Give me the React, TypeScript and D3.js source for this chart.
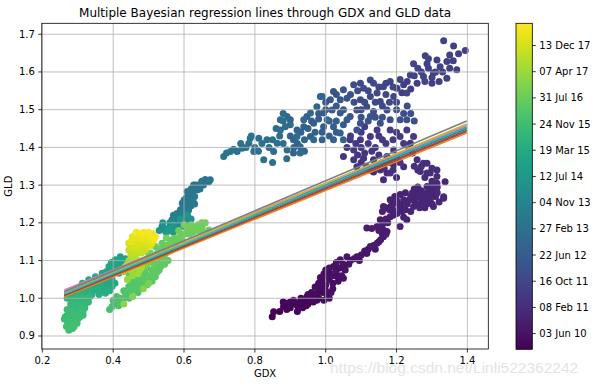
import * as d3 from 'd3';

// scatter points: [gdx, gld, time as fractional year]
const pts2010: [number, number, number][] = [
  [0.849, 0.951, 2010.05], [0.853, 0.964, 2010.08], [0.87, 0.965, 2010.08], [0.881, 0.978, 2010.1],
  [0.89, 0.97, 2010.1], [0.88, 0.99, 2010.11], [0.891, 0.987, 2010.12], [0.9, 0.975, 2010.1],
  [0.9, 0.99, 2010.12], [0.909, 0.995, 2010.15], [0.915, 0.985, 2010.14], [0.92, 0.98, 2010.13],
  [0.92, 0.965, 2010.14], [0.935, 0.975, 2010.15], [0.95, 0.985, 2010.16], [0.965, 0.99, 2010.18],
  [0.928, 0.991, 2010.18], [0.93, 1.0, 2010.19], [0.94, 0.99, 2010.17], [0.945, 0.98, 2010.16],
  [0.947, 1.004, 2010.2], [0.955, 0.995, 2010.2], [0.96, 1.0, 2010.22], [0.965, 1.01, 2010.23],
  [0.95, 1.01, 2010.22], [0.96, 1.015, 2010.23], [0.975, 0.995, 2010.24],
  [0.975, 1.013, 2010.25], [0.98, 1.0, 2010.24], [0.99, 1.015, 2010.26], [0.995, 0.995, 2010.28],
  [1.0, 1.02, 2010.29], [1.004, 1.009, 2010.3], [1.01, 1.0, 2010.31], [1.015, 1.015, 2010.31],
  [1.02, 1.025, 2010.32], [0.98, 1.04, 2010.32], [0.99, 1.035, 2010.33],
  [0.985, 1.025, 2010.27], [0.97, 1.03, 2010.3], [1.0, 1.035, 2010.3], [1.02, 1.04, 2010.32],
  [0.99, 1.049, 2010.33], [1.01, 1.05, 2010.34], [1.035, 1.045, 2010.35], [1.025, 1.06, 2010.36],
  [0.985, 1.055, 2010.34], [1.005, 1.06, 2010.35], [0.995, 1.065, 2010.36], [1.035, 1.06, 2010.37],
  [1.013, 1.066, 2010.36], [1.03, 1.075, 2010.38], [1.022, 1.084, 2010.4], [1.04, 1.08, 2010.4],
  [1.0, 1.075, 2010.38], [1.01, 1.08, 2010.39],
  [1.045, 1.06, 2010.41], [1.05, 1.053, 2010.42], [1.055, 1.075, 2010.43], [1.03, 1.095, 2010.44],
  [1.05, 1.09, 2010.44], [1.041, 1.102, 2010.45], [1.065, 1.09, 2010.46], [1.07, 1.1, 2010.47],
  [1.06, 1.11, 2010.48], [1.08, 1.105, 2010.49], [1.088, 1.11, 2010.5], [1.095, 1.1, 2010.5],
  [1.1, 1.115, 2010.52], [1.11, 1.125, 2010.53], [1.116, 1.119, 2010.53], [1.12, 1.13, 2010.55],
  [1.126, 1.137, 2010.56], [1.14, 1.13, 2010.57], [1.135, 1.14, 2010.58], [1.145, 1.146, 2010.6],
  [1.15, 1.15, 2010.61], [1.155, 1.155, 2010.62], [1.163, 1.163, 2010.63], [1.16, 1.17, 2010.64],
  [1.17, 1.17, 2010.65], [1.165, 1.18, 2010.66], [1.173, 1.177, 2010.66], [1.15, 1.18, 2010.67],
  [1.116, 1.186, 2010.68], [1.13, 1.185, 2010.69], [1.145, 1.19, 2010.7], [1.16, 1.195, 2010.71],
  [1.154, 1.208, 2010.72], [1.175, 1.2, 2010.73], [1.17, 1.21, 2010.74], [1.182, 1.216, 2010.75],
  [1.19, 1.22, 2010.76], [1.201, 1.225, 2010.77], [1.21, 1.19, 2010.78], [1.19, 1.235, 2010.79],
  [1.16, 1.23, 2010.78], [1.17, 1.24, 2010.79], [1.18, 1.235, 2010.8],
  [1.22, 1.215, 2010.79], [1.163, 1.243, 2010.8], [1.21, 1.24, 2010.8], [1.215, 1.23, 2010.81],
  [1.185, 1.245, 2010.81], [1.192, 1.252, 2010.82], [1.2, 1.26, 2010.82], [1.205, 1.25, 2010.83],
  [1.215, 1.25, 2010.83], [1.195, 1.27, 2010.84], [1.21, 1.275, 2010.85],
  [1.182, 1.261, 2010.83], [1.229, 1.208, 2010.84], [1.225, 1.235, 2010.84], [1.24, 1.23, 2010.85],
  [1.22, 1.261, 2010.85], [1.23, 1.25, 2010.86], [1.235, 1.26, 2010.86], [1.248, 1.243, 2010.87],
  [1.225, 1.28, 2010.86], [1.25, 1.29, 2010.88], [1.26, 1.295, 2010.89],
  [1.25, 1.26, 2010.87], [1.255, 1.25, 2010.87], [1.265, 1.24, 2010.88], [1.24, 1.27, 2010.88],
  [1.258, 1.269, 2010.88], [1.245, 1.28, 2010.89], [1.265, 1.27, 2010.89], [1.27, 1.255, 2010.89],
  [1.276, 1.278, 2010.9], [1.28, 1.265, 2010.9], [1.26, 1.28, 2010.9], [1.27, 1.285, 2010.91],
  [1.28, 1.24, 2010.91], [1.3, 1.25, 2010.92], [1.3, 1.27, 2010.92],
  [1.29, 1.275, 2010.91], [1.285, 1.25, 2010.92], [1.295, 1.261, 2010.92], [1.29, 1.29, 2010.93],
  [1.304, 1.243, 2010.93], [1.3, 1.285, 2010.94], [1.31, 1.27, 2010.94], [1.315, 1.28, 2010.95],
  [1.3, 1.3, 2010.95], [1.315, 1.295, 2010.96],
  [1.32, 1.255, 2010.95], [1.333, 1.265, 2010.95], [1.286, 1.296, 2010.96], [1.333, 1.269, 2010.97],
  [1.337, 1.309, 2010.98],
];

const pts2011: [number, number, number][] = [
  [1.314, 1.305, 2011.0], [1.3, 1.31, 2011.01], [1.163, 1.314, 2011.02], [1.173, 1.332, 2011.03],
  [1.2, 1.32, 2011.04], [1.145, 1.349, 2011.05], [1.135, 1.335, 2011.06], [1.192, 1.354, 2011.08],
  [1.267, 1.336, 2011.1], [1.28, 1.32, 2011.1], [1.314, 1.323, 2011.11], [1.295, 1.332, 2011.12],
  [1.314, 1.34, 2011.13], [1.3, 1.345, 2011.13], [1.286, 1.332, 2011.14], [1.286, 1.358, 2011.15],
  [1.276, 1.358, 2011.16], [1.27, 1.35, 2011.16], [1.26, 1.34, 2011.17], [1.258, 1.367, 2011.18],
  [1.25, 1.35, 2011.18], [1.22, 1.349, 2011.19], [1.154, 1.34, 2011.2], [1.182, 1.332, 2011.21],
  [1.19, 1.34, 2011.21], [1.126, 1.34, 2011.22], [1.115, 1.35, 2011.23], [1.165, 1.345, 2011.24],
  [1.088, 1.349, 2011.25], [1.1, 1.36, 2011.26], [1.16, 1.36, 2011.27], [1.135, 1.367, 2011.28],
  [1.173, 1.376, 2011.28], [1.18, 1.36, 2011.29], [1.21, 1.36, 2011.29], [1.107, 1.371, 2011.3],
  [1.192, 1.393, 2011.3], [1.2, 1.37, 2011.31], [1.15, 1.38, 2011.31], [1.239, 1.411, 2011.32],
  [1.245, 1.385, 2011.32], [1.235, 1.395, 2011.33], [1.079, 1.367, 2011.33], [1.09, 1.38, 2011.34],
  [1.05, 1.376, 2011.35], [1.11, 1.385, 2011.35], [1.13, 1.39, 2011.36], [1.079, 1.393, 2011.37],
  [1.1, 1.4, 2011.37], [1.14, 1.4, 2011.38], [1.06, 1.4, 2011.39], [1.069, 1.42, 2011.4],
  [1.085, 1.41, 2011.4], [1.12, 1.41, 2011.41], [1.098, 1.42, 2011.42], [1.17, 1.41, 2011.42],
  [1.22, 1.41, 2011.43], [1.19, 1.42, 2011.43], [1.126, 1.429, 2011.44], [1.16, 1.42, 2011.44],
  [1.07, 1.43, 2011.45], [1.21, 1.429, 2011.46], [1.15, 1.43, 2011.46], [1.248, 1.429, 2011.48],
  [1.1, 1.44, 2011.48], [1.2, 1.44, 2011.49], [1.182, 1.446, 2011.5], [1.145, 1.446, 2011.5],
  [1.11, 1.455, 2011.51], [1.229, 1.446, 2011.52],
  [1.215, 1.545, 2011.54], [1.201, 1.557, 2011.55], [1.22, 1.566, 2011.56], [1.24, 1.555, 2011.56],
  [1.258, 1.57, 2011.57], [1.23, 1.575, 2011.57], [1.342, 1.583, 2011.58], [1.3, 1.57, 2011.58],
  [1.304, 1.597, 2011.59], [1.3, 1.585, 2011.59], [1.37, 1.606, 2011.6], [1.32, 1.575, 2011.6],
  [1.323, 1.614, 2011.61], [1.31, 1.6, 2011.61], [1.286, 1.622, 2011.62], [1.29, 1.61, 2011.62],
  [1.342, 1.628, 2011.63], [1.33, 1.6, 2011.63], [1.314, 1.632, 2011.64], [1.35, 1.61, 2011.64],
  [1.375, 1.648, 2011.65], [1.36, 1.63, 2011.65], [1.394, 1.657, 2011.66], [1.35, 1.645, 2011.66],
  [1.361, 1.669, 2011.67], [1.333, 1.683, 2011.68], [1.29, 1.635, 2011.69], [1.281, 1.643, 2011.7],
  [1.27, 1.6, 2011.7], [1.248, 1.622, 2011.71], [1.26, 1.61, 2011.71], [1.276, 1.588, 2011.72],
  [1.28, 1.575, 2011.72], [1.239, 1.592, 2011.73], [1.25, 1.59, 2011.73], [1.182, 1.575, 2011.74],
  [1.21, 1.58, 2011.75],
  [1.229, 1.544, 2011.8], [1.19, 1.56, 2011.81], [1.192, 1.535, 2011.82], [1.17, 1.57, 2011.82],
  [1.2, 1.52, 2011.83], [1.163, 1.561, 2011.84], [1.15, 1.56, 2011.84], [1.18, 1.52, 2011.85],
  [1.145, 1.544, 2011.86], [1.17, 1.54, 2011.86], [1.154, 1.522, 2011.88], [1.16, 1.51, 2011.88],
  [1.126, 1.535, 2011.9], [1.14, 1.52, 2011.9], [1.126, 1.579, 2011.91], [1.135, 1.57, 2011.92],
  [1.12, 1.55, 2011.92], [1.098, 1.57, 2011.93], [1.107, 1.557, 2011.94], [1.11, 1.52, 2011.94],
  [1.079, 1.566, 2011.95], [1.09, 1.55, 2011.95], [1.098, 1.526, 2011.96], [1.08, 1.52, 2011.96],
  [1.07, 1.54, 2011.97], [1.116, 1.508, 2011.98], [1.1, 1.5, 2011.98],
];

const pts2012: [number, number, number][] = [
  [1.088, 1.499, 2012.0], [1.2, 1.5, 2012.01], [1.135, 1.495, 2012.02], [1.22, 1.49, 2012.03],
  [1.173, 1.499, 2012.04], [1.23, 1.51, 2012.04], [1.182, 1.473, 2012.06], [1.24, 1.49, 2012.06],
  [1.21, 1.473, 2012.08], [1.25, 1.47, 2012.08], [1.229, 1.473, 2012.1], [1.16, 1.48, 2012.11],
  [1.154, 1.464, 2012.12], [1.14, 1.48, 2012.13], [1.126, 1.482, 2012.14], [1.12, 1.47, 2012.15],
  [1.098, 1.464, 2012.16], [1.1, 1.48, 2012.17], [1.088, 1.446, 2012.18], [1.069, 1.482, 2012.2],
  [1.06, 1.53, 2012.23], [1.041, 1.526, 2012.25], [1.03, 1.54, 2012.26], [1.05, 1.553, 2012.28],
  [1.022, 1.548, 2012.3], [1.0, 1.52, 2012.31], [1.013, 1.526, 2012.33], [1.03, 1.51, 2012.34],
  [0.985, 1.535, 2012.36], [1.05, 1.5, 2012.37], [1.0, 1.5, 2012.38], [1.018, 1.499, 2012.4],
  [0.98, 1.49, 2012.41], [1.041, 1.491, 2012.42], [1.01, 1.47, 2012.43], [1.06, 1.473, 2012.44],
  [1.03, 1.47, 2012.45], [0.994, 1.491, 2012.46], [1.05, 1.46, 2012.47], [0.994, 1.455, 2012.48],
  [0.98, 1.475, 2012.49], [1.022, 1.455, 2012.5], [0.96, 1.47, 2012.51], [0.966, 1.464, 2012.52],
  [1.03, 1.44, 2012.53], [0.947, 1.482, 2012.54], [0.99, 1.44, 2012.55], [0.957, 1.429, 2012.56],
  [0.97, 1.44, 2012.57], [0.938, 1.455, 2012.58], [0.95, 1.45, 2012.59], [1.041, 1.438, 2012.6],
  [1.01, 1.43, 2012.61], [1.022, 1.42, 2012.62], [0.99, 1.42, 2012.63], [1.05, 1.42, 2012.64],
  [0.93, 1.44, 2012.65], [0.919, 1.446, 2012.66], [0.94, 1.42, 2012.67], [0.909, 1.42, 2012.68],
  [0.92, 1.41, 2012.69], [0.9, 1.473, 2012.7], [0.9, 1.43, 2012.71], [0.928, 1.402, 2012.72],
  [0.91, 1.4, 2012.73], [0.909, 1.385, 2012.74], [0.94, 1.39, 2012.76],
  [0.99, 1.535, 2012.8], [0.975, 1.508, 2012.82], [0.957, 1.491, 2012.84], [0.938, 1.473, 2012.86],
  [1.004, 1.473, 2012.88], [0.966, 1.42, 2012.9], [0.928, 1.385, 2012.92], [0.919, 1.429, 2012.94],
];

const pts2013: [number, number, number][] = [
  [0.891, 1.482, 2012.96], [0.88, 1.49, 2012.97], [0.886, 1.455, 2012.98], [0.9, 1.46, 2012.99],
  [0.872, 1.473, 2013.0], [0.88, 1.47, 2013.01], [0.872, 1.446, 2013.02], [0.86, 1.45, 2013.03],
  [0.863, 1.411, 2013.04], [0.87, 1.43, 2013.04], [0.891, 1.393, 2013.05], [0.88, 1.41, 2013.05],
  [0.853, 1.389, 2013.06], [0.85, 1.42, 2013.06], [0.825, 1.367, 2013.07], [0.85, 1.36, 2013.07],
  [0.834, 1.42, 2013.08], [0.89, 1.37, 2013.08], [0.84, 1.4, 2013.09], [0.811, 1.424, 2013.1],
  [0.82, 1.41, 2013.11], [0.797, 1.389, 2013.12], [0.81, 1.39, 2013.13], [0.787, 1.424, 2013.14],
  [0.8, 1.4, 2013.15], [0.783, 1.411, 2013.16], [0.79, 1.43, 2013.17], [0.764, 1.398, 2013.18],
  [0.775, 1.4, 2013.19], [0.75, 1.389, 2013.2], [0.76, 1.41, 2013.21], [0.731, 1.389, 2013.22],
  [0.74, 1.395, 2013.23], [0.712, 1.376, 2013.24], [0.72, 1.385, 2013.25],
  [0.674, 1.314, 2013.3], [0.66, 1.315, 2013.3], [0.65, 1.31, 2013.31], [0.67, 1.309, 2013.31],
  [0.655, 1.3, 2013.32], [0.632, 1.3, 2013.32], [0.645, 1.29, 2013.33], [0.64, 1.3, 2013.33],
  [0.627, 1.3, 2013.34], [0.635, 1.29, 2013.34], [0.62, 1.29, 2013.34], [0.637, 1.287, 2013.35],
  [0.609, 1.283, 2013.36], [0.623, 1.279, 2013.37], [0.63, 1.27, 2013.38], [0.61, 1.27, 2013.39],
  [0.605, 1.265, 2013.4], [0.6, 1.26, 2013.41], [0.618, 1.261, 2013.42], [0.625, 1.26, 2013.43],
  [0.595, 1.252, 2013.44], [0.615, 1.25, 2013.45], [0.62, 1.245, 2013.46], [0.63, 1.25, 2013.47],
  [0.599, 1.243, 2013.48], [0.6, 1.24, 2013.48], [0.59, 1.235, 2013.49], [0.61, 1.235, 2013.5],
  [0.613, 1.234, 2013.5], [0.605, 1.23, 2013.52], [0.59, 1.225, 2013.53], [0.58, 1.225, 2013.55],
  [0.6, 1.22, 2013.57], [0.595, 1.21, 2013.58], [0.585, 1.215, 2013.6], [0.57, 1.22, 2013.62],
  [0.575, 1.21, 2013.63], [0.58, 1.21, 2013.65], [0.585, 1.195, 2013.68], [0.6, 1.205, 2013.7],
  [0.575, 1.2, 2013.75], [0.566, 1.208, 2013.8], [0.565, 1.19, 2013.85], [0.595, 1.199, 2013.9],
  [0.59, 1.195, 2013.95], [0.56, 1.2, 2014.0],
];

const pts2014: [number, number, number][] = [
  [0.538, 1.19, 2014.1], [0.61, 1.205, 2014.15], [0.548, 1.177, 2014.2], [0.62, 1.21, 2014.25],
  [0.545, 1.185, 2014.3], [0.54, 1.2, 2014.32], [0.58, 1.185, 2014.35], [0.53, 1.18, 2014.38],
  [0.576, 1.181, 2014.4], [0.61, 1.22, 2014.45], [0.57, 1.175, 2014.47], [0.6, 1.19, 2014.48],
  [0.57, 1.195, 2014.5], [0.59, 1.21, 2014.55], [0.56, 1.18, 2014.58], [0.555, 1.185, 2014.6],
  [0.55, 1.175, 2014.65],
  [0.425, 1.102, 2014.9], [0.42, 1.11, 2014.91], [0.415, 1.095, 2014.92], [0.435, 1.105, 2014.93],
  [0.425, 1.084, 2014.95], [0.43, 1.095, 2014.96], [0.41, 1.085, 2014.97], [0.41, 1.1, 2014.98],
  [0.416, 1.066, 2015.0], [0.415, 1.08, 2015.01], [0.406, 1.102, 2015.02], [0.4, 1.09, 2015.03],
  [0.395, 1.095, 2015.04], [0.388, 1.084, 2015.05], [0.405, 1.075, 2015.05], [0.4, 1.07, 2015.06],
  [0.39, 1.08, 2015.07], [0.397, 1.049, 2015.08], [0.405, 1.04, 2015.09], [0.38, 1.07, 2015.09],
  [0.369, 1.066, 2015.1], [0.37, 1.06, 2015.1], [0.39, 1.065, 2015.11], [0.378, 1.04, 2015.12],
  [0.385, 1.06, 2015.13], [0.35, 1.057, 2015.15], [0.39, 1.045, 2015.16], [0.397, 1.031, 2015.18],
  [0.385, 1.03, 2015.19], [0.331, 1.049, 2015.2], [0.385, 1.04, 2015.2], [0.37, 1.05, 2015.21],
  [0.369, 1.031, 2015.22], [0.36, 1.045, 2015.23], [0.375, 1.025, 2015.24], [0.313, 1.04, 2015.25],
  [0.355, 1.035, 2015.26], [0.365, 1.035, 2015.26], [0.34, 1.04, 2015.27], [0.345, 1.045, 2015.27],
  [0.33, 1.03, 2015.28], [0.355, 1.025, 2015.29], [0.35, 1.022, 2015.3], [0.345, 1.03, 2015.31],
  [0.378, 1.013, 2015.32], [0.39, 1.02, 2015.33], [0.36, 1.02, 2015.34], [0.34, 1.025, 2015.35],
  [0.34, 1.01, 2015.36], [0.36, 1.01, 2015.37], [0.32, 1.035, 2015.38], [0.33, 1.02, 2015.39],
  [0.322, 1.013, 2015.4], [0.325, 1.025, 2015.42], [0.31, 1.02, 2015.45], [0.3, 1.02, 2015.46],
  [0.29, 1.01, 2015.47], [0.28, 1.005, 2015.48], [0.294, 1.022, 2015.5], [0.27, 1.0, 2015.51],
  [0.3, 1.01, 2015.52], [0.31, 1.005, 2015.55],
];

const pts2015: [number, number, number][] = [
  [0.303, 0.995, 2015.6], [0.32, 1.0, 2015.61], [0.3, 1.0, 2015.62], [0.335, 1.005, 2015.63],
  [0.325, 1.0, 2015.64], [0.285, 0.995, 2015.65], [0.33, 0.99, 2015.66], [0.295, 0.99, 2015.67],
  [0.322, 0.987, 2015.68], [0.31, 0.99, 2015.69], [0.284, 0.978, 2015.7], [0.28, 0.985, 2015.71],
  [0.313, 0.978, 2015.72], [0.295, 0.98, 2015.73], [0.32, 0.975, 2015.74], [0.29, 0.965, 2015.75],
  [0.3, 0.97, 2015.76], [0.31, 0.975, 2015.77], [0.275, 0.964, 2015.78], [0.27, 0.97, 2015.79],
  [0.28, 0.97, 2015.79], [0.308, 0.96, 2015.8], [0.315, 0.965, 2015.81], [0.315, 0.955, 2015.81],
  [0.285, 0.96, 2015.82], [0.3, 0.96, 2015.82], [0.27, 0.955, 2015.83], [0.265, 0.951, 2015.84],
  [0.29, 0.955, 2015.84], [0.28, 0.945, 2015.85], [0.262, 0.945, 2015.85], [0.294, 0.951, 2015.86],
  [0.305, 0.95, 2015.87], [0.3, 0.945, 2015.88], [0.27, 0.94, 2015.9], [0.29, 0.94, 2015.92],
  [0.275, 0.93, 2015.93], [0.268, 0.925, 2015.94], [0.298, 0.934, 2015.95], [0.285, 0.93, 2015.96],
  [0.29, 0.925, 2015.97], [0.28, 0.925, 2015.98], [0.275, 0.915, 2015.99], [0.285, 0.92, 2016.0],
];

const pts2016: [number, number, number][] = [
  [0.39, 0.97, 2016.03], [0.397, 0.978, 2016.05], [0.4, 0.995, 2016.06], [0.406, 0.987, 2016.08],
  [0.41, 0.99, 2016.09], [0.415, 0.98, 2016.09], [0.425, 0.995, 2016.1], [0.41, 1.005, 2016.1],
  [0.42, 1.0, 2016.11], [0.43, 1.0, 2016.12], [0.445, 1.0, 2016.13], [0.43, 1.02, 2016.14],
  [0.435, 1.013, 2016.15], [0.44, 1.01, 2016.16], [0.47, 1.015, 2016.17], [0.45, 1.02, 2016.18],
  [0.444, 1.031, 2016.2], [0.463, 1.022, 2016.22], [0.455, 1.035, 2016.23], [0.45, 1.045, 2016.23],
  [0.47, 1.03, 2016.24], [0.454, 1.049, 2016.25], [0.46, 1.045, 2016.25], [0.475, 1.045, 2016.26],
  [0.482, 1.04, 2016.28], [0.495, 1.035, 2016.29], [0.444, 1.066, 2016.3], [0.46, 1.06, 2016.31],
  [0.491, 1.066, 2016.32], [0.475, 1.055, 2016.32], [0.48, 1.06, 2016.33], [0.49, 1.05, 2016.33],
  [0.519, 1.057, 2016.34], [0.5, 1.05, 2016.35], [0.51, 1.045, 2016.35], [0.472, 1.084, 2016.36],
  [0.505, 1.06, 2016.37], [0.515, 1.065, 2016.37], [0.51, 1.075, 2016.38], [0.495, 1.08, 2016.39],
  [0.525, 1.07, 2016.39], [0.538, 1.093, 2016.4], [0.52, 1.085, 2016.41], [0.535, 1.085, 2016.41],
  [0.491, 1.102, 2016.42], [0.53, 1.075, 2016.43], [0.545, 1.09, 2016.43], [0.519, 1.11, 2016.44],
  [0.53, 1.1, 2016.45], [0.555, 1.1, 2016.45], [0.548, 1.119, 2016.46], [0.545, 1.105, 2016.47],
  [0.5, 1.119, 2016.48], [0.51, 1.095, 2016.49], [0.515, 1.09, 2016.49], [0.519, 1.137, 2016.5],
  [0.525, 1.12, 2016.51], [0.535, 1.115, 2016.51], [0.538, 1.146, 2016.52], [0.54, 1.13, 2016.53],
  [0.53, 1.13, 2016.53], [0.55, 1.13, 2016.54], [0.566, 1.155, 2016.54], [0.56, 1.125, 2016.55],
  [0.55, 1.14, 2016.55], [0.57, 1.145, 2016.56], [0.604, 1.172, 2016.56], [0.56, 1.145, 2016.57],
  [0.58, 1.15, 2016.57], [0.623, 1.19, 2016.58], [0.595, 1.155, 2016.58], [0.575, 1.16, 2016.59],
  [0.6, 1.17, 2016.59], [0.651, 1.19, 2016.6], [0.615, 1.17, 2016.6], [0.59, 1.165, 2016.61],
  [0.625, 1.175, 2016.61], [0.67, 1.181, 2016.62], [0.64, 1.18, 2016.62], [0.585, 1.18, 2016.63],
  [0.655, 1.175, 2016.63], [0.61, 1.185, 2016.64], [0.65, 1.2, 2016.64], [0.63, 1.18, 2016.65],
  [0.62, 1.195, 2016.65], [0.64, 1.195, 2016.66], [0.66, 1.2, 2016.67], [0.6, 1.195, 2016.68],
  [0.55, 1.16, 2016.7], [0.505, 1.12, 2016.74], [0.5, 1.095, 2016.76], [0.475, 1.095, 2016.78],
  [0.49, 1.085, 2016.8], [0.465, 1.07, 2016.82], [0.5, 1.04, 2016.86], [0.485, 1.025, 2016.9],
  [0.455, 1.005, 2016.94], [0.43, 0.985, 2016.98],
];

const pts2017: [number, number, number][] = [
  [0.44, 1.05, 2017.15], [0.455, 1.06, 2017.2], [0.47, 1.065, 2017.25], [0.43, 1.07, 2017.25],
  [0.449, 1.075, 2017.3], [0.475, 1.075, 2017.32], [0.48, 1.085, 2017.33], [0.435, 1.084, 2017.35],
  [0.485, 1.1, 2017.36], [0.455, 1.08, 2017.37],
  [0.468, 1.084, 2017.4], [0.44, 1.09, 2017.42], [0.445, 1.1, 2017.45], [0.454, 1.102, 2017.5],
  [0.46, 1.095, 2017.52], [0.47, 1.1, 2017.55], [0.46, 1.11, 2017.6], [0.45, 1.115, 2017.65],
  [0.444, 1.128, 2017.7], [0.455, 1.12, 2017.7], [0.468, 1.119, 2017.75], [0.48, 1.12, 2017.77],
  [0.491, 1.128, 2017.8], [0.455, 1.13, 2017.82], [0.47, 1.13, 2017.84], [0.485, 1.13, 2017.85],
  [0.45, 1.135, 2017.88], [0.444, 1.146, 2017.9], [0.475, 1.14, 2017.93], [0.495, 1.14, 2017.96],
  [0.463, 1.137, 2018.0], [0.505, 1.14, 2018.02], [0.482, 1.146, 2018.05], [0.46, 1.15, 2018.07],
  [0.51, 1.146, 2018.1], [0.47, 1.155, 2018.1], [0.49, 1.15, 2018.12], [0.454, 1.163, 2018.15],
  [0.45, 1.15, 2018.17], [0.472, 1.172, 2018.2], [0.5, 1.155, 2018.2], [0.46, 1.16, 2018.22],
  [0.491, 1.168, 2018.25], [0.48, 1.16, 2018.27], [0.51, 1.172, 2018.3], [0.5, 1.165, 2018.32],
  [0.519, 1.163, 2018.35], [0.515, 1.155, 2018.38], [0.465, 1.175, 2018.4], [0.485, 1.175, 2018.42],
  [0.5, 1.175, 2018.45],
];

// regression lines: intercept and slope of each posterior sample
const lineIntercepts = [0.9112, 0.9039, 0.9081, 0.9072, 0.9148, 0.9067, 0.9214, 0.9138, 0.9095, 0.9091];
const lineSlopes = [0.3847, 0.382, 0.3891, 0.3847, 0.3864, 0.3829, 0.3838, 0.3979, 0.3952, 0.3891];
const lineRange = [0.262, 1.398];

const xTicks = [0.2, 0.4, 0.6, 0.8, 1.0, 1.2, 1.4];
const yTicks = [0.9, 1.0, 1.1, 1.2, 1.3, 1.4, 1.5, 1.6, 1.7];
const cbTicks = [
  '2010-06-03', '2011-02-08', '2011-10-16', '2012-06-22', '2013-02-27', '2013-11-04',
  '2014-07-12', '2015-03-19', '2015-11-24', '2016-07-31', '2017-04-07', '2017-12-13',
];
const dateRange = ['2010-01-04', '2018-07-13'];

const W = 594;
const H = 385;
const plot = { left: 41.8, right: 488.3, top: 23.3, bottom: 349 };
const cb = { left: 516, right: 532.3, top: 23.3, bottom: 349.3 };
const font = 'DejaVu Sans, sans-serif';

function yearToDate(t: number) {
  const y = Math.floor(t);
  return new Date(Date.UTC(y, 0, 1) + (t - y) * 365.25 * 864e5);
}

export default function App() {
  const x = d3.scaleLinear().domain([0.1985, 1.459]).range([plot.left, plot.right]);
  const y = d3.scaleLinear().domain([0.8655, 1.729]).range([plot.bottom, plot.top]);
  const tScale = d3
    .scaleUtc()
    .domain(dateRange.map((d) => new Date(d)))
    .range([cb.bottom, cb.top]);
  const color = d3
    .scaleSequential(d3.interpolateViridis)
    .domain(dateRange.map((d) => +new Date(d)));
  const fmt = d3.utcFormat('%d %b %y');

  const points = [...pts2010, ...pts2011, ...pts2012, ...pts2013, ...pts2014, ...pts2015, ...pts2016, ...pts2017]
    .map(([gx, gy, t]) => ({ gx, gy, date: yearToDate(t) }))
    .sort((a, b) => +a.date - +b.date);

  const lines = lineIntercepts.map((a, i) => ({ a, b: lineSlopes[i], color: d3.schemeCategory10[i] }));
  const line = d3.line<number>().x((d) => x(d));

  const gradStops = d3.range(0, 1.0001, 0.05);

  return (
    <svg width={W} height={H} style={{ position: 'absolute', left: 0, top: 0 }} fontFamily={font}>
      <defs>
        <linearGradient id="viridis" x1="0" y1="1" x2="0" y2="0">
          {gradStops.map((s) => (
            <stop key={s} offset={s} stopColor={d3.interpolateViridis(s)} />
          ))}
        </linearGradient>
        <clipPath id="plotclip">
          <rect x={plot.left} y={plot.top} width={plot.right - plot.left} height={plot.bottom - plot.top} />
        </clipPath>
      </defs>
      <rect width={W} height={H} fill="#fff" />

      <g clipPath="url(#plotclip)">
        {points.map((p, i) => (
          <circle key={i} cx={x(p.gx)} cy={y(p.gy)} r={3.5} fill={color(+p.date)} />
        ))}
      </g>

      {/* grid sits above the scatter, below the lines */}
      <g stroke="#b0b0b0" strokeWidth={0.8}>
        {xTicks.map((t) => (
          <line key={t} x1={x(t)} x2={x(t)} y1={plot.top} y2={plot.bottom} />
        ))}
        {yTicks.map((t) => (
          <line key={t} x1={plot.left} x2={plot.right} y1={y(t)} y2={y(t)} />
        ))}
      </g>

      <g fill="none" strokeWidth={1.5}>
        {lines.map((l, i) => (
          <path
            key={i}
            stroke={l.color}
            d={line.y((v) => y(l.a + l.b * v))(lineRange) ?? ''}
          />
        ))}
      </g>

      <rect
        x={plot.left}
        y={plot.top}
        width={plot.right - plot.left}
        height={plot.bottom - plot.top}
        fill="none"
        stroke="#000"
        strokeWidth={0.8}
      />

      <g fontSize={10} fill="#000">
        {xTicks.map((t) => (
          <g key={t}>
            <line x1={x(t)} x2={x(t)} y1={plot.bottom} y2={plot.bottom + 3.5} stroke="#000" strokeWidth={0.8} />
            <text x={x(t)} y={plot.bottom + 14.5} textAnchor="middle">
              {d3.format('.1f')(t)}
            </text>
          </g>
        ))}
        {yTicks.map((t) => (
          <g key={t}>
            <line x1={plot.left - 3.5} x2={plot.left} y1={y(t)} y2={y(t)} stroke="#000" strokeWidth={0.8} />
            <text x={plot.left - 7} y={y(t)} dy="0.35em" textAnchor="end">
              {d3.format('.1f')(t)}
            </text>
          </g>
        ))}
        <text x={(plot.left + plot.right) / 2} y={377} textAnchor="middle">
          GDX
        </text>
        <text transform={`translate(12,${(plot.top + plot.bottom) / 2}) rotate(-90)`} textAnchor="middle">
          GLD
        </text>
      </g>

      <text x={(plot.left + plot.right) / 2} y={17.3} textAnchor="middle" fontSize={12}>
        Multiple Bayesian regression lines through GDX and GLD data
      </text>

      <rect
        x={cb.left}
        y={cb.top}
        width={cb.right - cb.left}
        height={cb.bottom - cb.top}
        fill="url(#viridis)"
        stroke="#000"
        strokeWidth={0.8}
      />
      <g fontSize={10}>
        {cbTicks.map((d) => {
          const ty = tScale(new Date(d));
          return (
            <g key={d}>
              <line x1={cb.right} x2={cb.right + 3.5} y1={ty} y2={ty} stroke="#000" strokeWidth={0.8} />
              <text x={cb.right + 7} y={ty} dy="0.35em">
                {fmt(new Date(d))}
              </text>
            </g>
          );
        })}
      </g>

      <text x={330} y={373} fontSize={15.5} fontFamily="Liberation Sans, Arial, sans-serif" fill="#e4e4e4">
        https://blog.csdn.net/Linli522362242
      </text>
    </svg>
  );
}
